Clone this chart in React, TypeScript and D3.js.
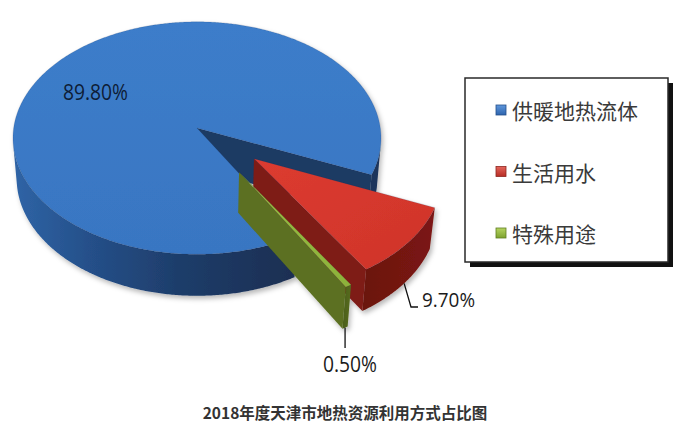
import React from 'react';
import * as d3 from 'd3';

// ---- data ----
const categories = ['供暖地热流体', '生活用水', '特殊用途'];
const shares = [89.8, 9.7, 0.5];
const shareLabels = ['89.80%', '9.70%', '0.50%'];
const explodeBy = [0, 0.4, 0.43];
const chartTitle = '2018年度天津市地热资源利用方式占比图';

// ---- styling ----
const topFill = ['url(#gTopBlue)', 'url(#gTopRed)', 'url(#gTopGreen)'];
const wallFill = ['url(#gWallBlue)', 'url(#gWallRed)', 'url(#gWallGreen)'];
const faceFill = ['#1d3a64', '#7e1a15', '#5b7021'];
const swatchFill = ['url(#gSwBlue)', 'url(#gSwRed)', 'url(#gSwGreen)'];
const swatchStroke = ['#244f8a', '#8c2620', '#5f7d22'];

const W = 690;
const H = 434;

// ---- perspective camera for the 3D pie (disk of radius 1, top face at h = 0) ----
const CX = 197;
const CY = 128;
const FOCAL = 1650;
const DIST = 9;
const ELEV = (39 * Math.PI) / 180;
const THICK = 0.29;
const START = (149.8 * Math.PI) / 180;

const sE = Math.sin(ELEV);
const cE = Math.cos(ELEV);
const CAM: [number, number, number] = [0, DIST * cE, DIST * sE];

function project(u: number, v: number, h: number): [number, number] {
  const d = DIST - v * cE - h * sE;
  return [CX + (FOCAL * u) / d, CY - (FOCAL * (h * cE - v * sE)) / d];
}

const line = d3.line<[number, number]>().curve(d3.curveLinear);

function range(a0: number, a1: number, step = Math.PI / 360): number[] {
  const n = Math.max(1, Math.ceil((a1 - a0) / step));
  return d3.range(n + 1).map((i) => a0 + ((a1 - a0) * i) / n);
}

type Slice = {
  idx: number;
  a0: number;
  a1: number;
  ou: number;
  ov: number;
};

const arcs = d3
  .pie<number>()
  .sort(null)
  .startAngle(START)
  .endAngle(START + Math.PI * 2)(shares);

const slices: Slice[] = arcs.map((a, i) => {
  const mid = (a.startAngle + a.endAngle) / 2;
  return {
    idx: i,
    a0: a.startAngle,
    a1: a.endAngle,
    ou: explodeBy[i] * Math.sin(mid),
    ov: -explodeBy[i] * Math.cos(mid),
  };
});

const rimPt = (s: Slice, t: number, h: number, r = 1) =>
  project(s.ou + r * Math.sin(t), s.ov - r * Math.cos(t), h);

// outer wall visible where its normal faces the camera
function wallVisible(s: Slice, t: number) {
  const nx = Math.sin(t);
  const ny = -Math.cos(t);
  const px = s.ou + nx;
  const py = s.ov + ny;
  return nx * (CAM[0] - px) + ny * (CAM[1] - py) > 0;
}

function wallPaths(s: Slice): string[] {
  const ts = range(s.a0, s.a1);
  const runs: number[][] = [];
  let cur: number[] = [];
  ts.forEach((t) => {
    if (wallVisible(s, t)) cur.push(t);
    else if (cur.length) {
      runs.push(cur);
      cur = [];
    }
  });
  if (cur.length) runs.push(cur);
  return runs
    .filter((r) => r.length > 1)
    .map((r) => {
      const top = r.map((t) => rimPt(s, t, 0));
      const bot = r
        .slice()
        .reverse()
        .map((t) => rimPt(s, t, -THICK));
      return line([...top, ...bot]) + 'Z';
    });
}

function radialFaces(s: Slice): string[] {
  const out: string[] = [];
  const cx = s.ou;
  const cy = s.ov;
  const toCam = [CAM[0] - cx, CAM[1] - cy];
  // start face normal points to angle a0 - 90deg, end face to a1 + 90deg
  const faces: [number, number, number][] = [
    [s.a0, -Math.cos(s.a0), -Math.sin(s.a0)],
    [s.a1, Math.cos(s.a1), Math.sin(s.a1)],
  ];
  faces.forEach(([t, nx, ny]) => {
    if (nx * toCam[0] + ny * toCam[1] > 0) {
      const pts: [number, number][] = [
        project(cx, cy, 0),
        rimPt(s, t, 0),
        rimPt(s, t, -THICK),
        project(cx, cy, -THICK),
      ];
      out.push(line(pts) + 'Z');
    }
  });
  return out;
}

function topPath(s: Slice): string {
  const pts: [number, number][] = [project(s.ou, s.ov, 0), ...range(s.a0, s.a1).map((t) => rimPt(s, t, 0))];
  return line(pts) + 'Z';
}

// leader anchors on the lower edge of a slice wall
const midOf = (s: Slice) => (s.a0 + s.a1) / 2;

export default function App() {
  const red = slices[1];
  const green = slices[2];
  const redAnchor = rimPt(red, midOf(red), -THICK);
  const greenAnchor = rimPt(green, midOf(green), -THICK);

  const legendX = 465;
  const legendY = 78;
  const legendW = 203;
  const legendH = 184;
  const itemY = d3.scalePoint<string>().domain(categories).range([110, 233]);

  const numFont = "'Open Sans', 'Liberation Sans', sans-serif";
  const cjkFont = "'Noto Sans CJK SC', 'Noto Sans', sans-serif";

  return (
    <svg width={W} height={H} style={{ display: 'block', position: 'absolute', left: 0, top: 0 }}>
      <defs>
        <linearGradient id="gTopBlue" x1="0" y1="0" x2="0" y2="1">
          <stop offset="0" stopColor="#3c7dca" />
          <stop offset="1" stopColor="#3976c2" />
        </linearGradient>
        <linearGradient id="gWallBlue" gradientUnits="userSpaceOnUse" x1="14" y1="0" x2="382" y2="0">
          <stop offset="0" stopColor="#2f64a6" />
          <stop offset="0.2" stopColor="#25508a" />
          <stop offset="0.45" stopColor="#1e3d6a" />
          <stop offset="0.75" stopColor="#1a2f53" />
          <stop offset="1" stopColor="#1c355c" />
        </linearGradient>
        <linearGradient id="gTopRed" x1="0" y1="0" x2="1" y2="1">
          <stop offset="0" stopColor="#dc3b30" />
          <stop offset="1" stopColor="#cf342a" />
        </linearGradient>
        <linearGradient id="gWallRed" gradientUnits="userSpaceOnUse" x1="360" y1="0" x2="436" y2="0">
          <stop offset="0" stopColor="#6a130f" />
          <stop offset="1" stopColor="#7c1913" />
        </linearGradient>
        <linearGradient id="gTopGreen" x1="0" y1="0" x2="0" y2="1">
          <stop offset="0" stopColor="#98bd42" />
          <stop offset="1" stopColor="#8db23a" />
        </linearGradient>
        <linearGradient id="gWallGreen" x1="0" y1="0" x2="1" y2="0">
          <stop offset="0" stopColor="#4c5f19" />
          <stop offset="1" stopColor="#566b1d" />
        </linearGradient>
        <linearGradient id="gSwBlue" x1="0" y1="0" x2="0" y2="1">
          <stop offset="0" stopColor="#5f97dc" />
          <stop offset="1" stopColor="#2d64ad" />
        </linearGradient>
        <linearGradient id="gSwRed" x1="0" y1="0" x2="0" y2="1">
          <stop offset="0" stopColor="#e4655b" />
          <stop offset="1" stopColor="#b62c24" />
        </linearGradient>
        <linearGradient id="gSwGreen" x1="0" y1="0" x2="0" y2="1">
          <stop offset="0" stopColor="#b5d460" />
          <stop offset="1" stopColor="#7da22e" />
        </linearGradient>
        <filter id="pieShadow" x="-10%" y="-10%" width="125%" height="130%">
          <feDropShadow dx="2" dy="3" stdDeviation="2.5" floodColor="#000" floodOpacity="0.28" />
        </filter>
      </defs>

      <rect x={0} y={0} width={W} height={H} fill="#ffffff" />

      {/* 3D pie: back to front */}
      <g filter="url(#pieShadow)">
        {slices.map((s) => (
          <g key={s.idx}>
            {radialFaces(s).map((d, k) => (
              <path key={'f' + k} d={d} fill={faceFill[s.idx]} />
            ))}
            {wallPaths(s).map((d, k) => (
              <path key={'w' + k} d={d} fill={wallFill[s.idx]} />
            ))}
            <path d={topPath(s)} fill={topFill[s.idx]} stroke="rgba(20,40,80,0.25)" strokeWidth={0.6} />
          </g>
        ))}
      </g>

      {/* data labels */}
      <text
        x={63}
        y={100}
        fontFamily={numFont}
        fontSize={21}
        fill="#0e1c36"
        textLength={65}
        lengthAdjust="spacingAndGlyphs"
      >
        {shareLabels[0]}
      </text>

      <path
        d={line([redAnchor, [411, 307], [418, 307]]) || ''}
        fill="none"
        stroke="#111"
        strokeWidth={1.3}
      />
      <text
        x={422}
        y={307}
        fontFamily={numFont}
        fontSize={20}
        fill="#1a1a1a"
        textLength={53}
        lengthAdjust="spacingAndGlyphs"
      >
        {shareLabels[1]}
      </text>

      <path
        d={line([greenAnchor, [greenAnchor[0], 348]]) || ''}
        fill="none"
        stroke="#111"
        strokeWidth={1.3}
      />
      <text
        x={350}
        y={372}
        textAnchor="middle"
        fontFamily={numFont}
        fontSize={21}
        fill="#1a1a1a"
        textLength={54}
        lengthAdjust="spacingAndGlyphs"
      >
        {shareLabels[2]}
      </text>

      {/* legend */}
      <rect x={legendX + 5} y={legendY + 5} width={legendW} height={legendH} fill="#111" />
      <rect x={legendX} y={legendY} width={legendW} height={legendH} fill="#ffffff" stroke="#2a2a2a" strokeWidth={1.5} />
      {categories.map((c, i) => {
        const y = itemY(c) as number;
        return (
          <g key={c}>
            <rect x={496} y={y - 5} width={10} height={10} fill={swatchFill[i]} stroke={swatchStroke[i]} strokeWidth={0.8} />
            <text x={512} y={y} dominantBaseline="central" fontFamily={cjkFont} fontSize={21} fill="#3a3a3a">
              {c}
            </text>
          </g>
        );
      })}

      {/* title */}
      <text
        x={345}
        y={412}
        textAnchor="middle"
        dominantBaseline="central"
        fontFamily={cjkFont}
        fontWeight="bold"
        fontSize={15.5}
        fill="#333333"
      >
        {chartTitle}
      </text>
    </svg>
  );
}
